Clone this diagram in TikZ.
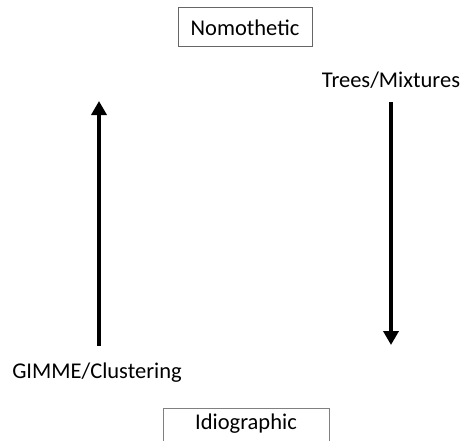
\documentclass[tikz,border=0pt]{standalone}
\usepackage{fontspec}
\setmainfont{Carlito}
\usetikzlibrary{arrows.meta, positioning}

\begin{document}
\begin{tikzpicture}[x=1pt, y=-1pt,
  every node/.append style={font=\fontsize{22.5}{27}\selectfont},
  pole/.style={draw=black!60, line width=1pt, minimum width=134pt, minimum height=39pt,
               inner sep=0pt, text height=17pt, text depth=0pt},
  lbl/.style={inner sep=0pt, anchor=base},
  arr/.style={line width=4.5pt, -{Triangle[length=14pt, width=15pt]}},
]
\useasboundingbox (0,0) rectangle (466,440);
\clip (0,0) rectangle (466,440);
% the two poles
\node[pole] (nomo) at (245,26.5) {Nomothetic};
\node[pole, draw=black!50, minimum width=166pt, text depth=14pt] (idio) at (246,427.5) {Idiographic};
% approaches
\node[lbl] (trees) at (391,87)  {Trees/Mixtures};
\node[lbl] (gimme) at (97,378)  {GIMME/Clustering};
% arrows
\coordinate (upfoot)  at (99,346);
\coordinate (uptip)   at (99,101);
\coordinate (downtop) at (391,102);
\coordinate (downtip) at (391,345);
\draw[arr] (upfoot) -- (uptip);
\draw[arr] (downtop) -- (downtip);
\end{tikzpicture}
\end{document}
